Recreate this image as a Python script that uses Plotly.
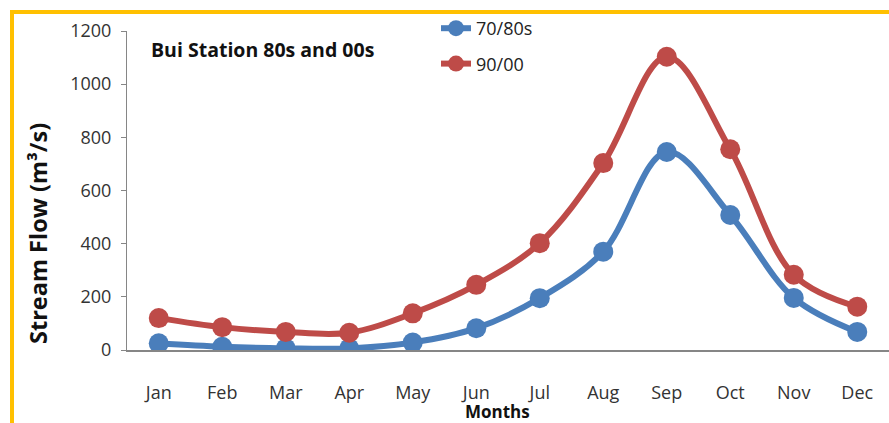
import plotly.graph_objects as go

months = ["Jan", "Feb", "Mar", "Apr", "May", "Jun", "Jul", "Aug", "Sep", "Oct", "Nov", "Dec"]
flow_7080 = [25, 12, 6, 6, 28, 82, 195, 370, 745, 508, 196, 68]
flow_9000 = [120, 86, 68, 65, 138, 245, 402, 703, 1103, 755, 283, 163]
y_ticks = [0, 200, 400, 600, 800, 1000, 1200]

FONT = "Open Sans, sans-serif"
BLUE = "#4A7EBB"
RED = "#BE4B48"

L, T, W, H = 127, 31, 762, 319


def px_x(x):
    return (x - L) / W


def px_y(y):
    return 1 - (y - T) / H


fig = go.Figure()
fig.add_trace(go.Scatter(
    x=months, y=flow_7080, name="70/80s", mode="lines+markers",
    line=dict(color=BLUE, width=6, shape="spline", smoothing=1.0),
    marker=dict(color=BLUE, size=20), legendgroup="a"))
fig.add_trace(go.Scatter(
    x=months, y=flow_9000, name="90/00", mode="lines+markers",
    line=dict(color=RED, width=6, shape="spline", smoothing=1.0),
    marker=dict(color=RED, size=20), legendgroup="b"))

fig.update_layout(
    width=889, height=423,
    margin=dict(l=L, r=889 - L - W, t=T, b=423 - T - H, autoexpand=False),
    paper_bgcolor="white", plot_bgcolor="white",
    font=dict(family=FONT, size=18, color="#333333"),
    showlegend=True,
    legend=dict(x=px_x(436), y=px_y(10), xanchor="left", yanchor="top",
                traceorder="grouped", tracegroupgap=9,
                font=dict(size=18, color="#222222"), bgcolor="rgba(0,0,0,0)",
                itemwidth=30),
    xaxis=dict(range=[-0.5, 11.5], showgrid=False, showline=True, linecolor="#868686",
               linewidth=1.5, ticks="", tickfont=dict(size=18, color="#333333"),
               ticklabelstandoff=26),
    yaxis=dict(range=[0, 1200], tickvals=y_ticks, showgrid=False, showline=True,
               linecolor="#868686", linewidth=1, ticks="outside", ticklen=5,
               tickcolor="#868686", tickfont=dict(size=18, color="#333333"),
               ticklabelstandoff=6, zeroline=False),
    annotations=[
        dict(text="<b>Bui Station 80s and 00s</b>", xref="paper", yref="paper",
             x=px_x(149), y=px_y(50), xanchor="left", yanchor="middle",
             showarrow=False, font=dict(size=19.5, color="#111111", family=FONT)),
        dict(text="<b>Stream Flow (m³/s)</b>", xref="paper", yref="paper",
             x=px_x(38), y=px_y(234), xanchor="center", yanchor="middle",
             textangle=-90, showarrow=False, font=dict(size=23.5, color="#111111", family=FONT)),
        dict(text="<b>Months</b>", xref="paper", yref="paper",
             x=px_x(497), y=px_y(411), xanchor="center", yanchor="middle",
             showarrow=False, font=dict(size=17, color="#111111", family=FONT)),
    ],
    shapes=[
        dict(type="line", xref="paper", yref="paper",
             x0=px_x(12), x1=px_x(889), y0=px_y(12), y1=px_y(12),
             line=dict(color="#FFC000", width=4)),
        dict(type="line", xref="paper", yref="paper",
             x0=px_x(12), x1=px_x(12), y0=px_y(430), y1=px_y(10),
             line=dict(color="#FFC000", width=4)),
    ],
)

fig.write_html("out.html", config={"displayModeBar": False},
               post_script="document.body.style.margin='0';document.body.style.overflow='hidden';")
